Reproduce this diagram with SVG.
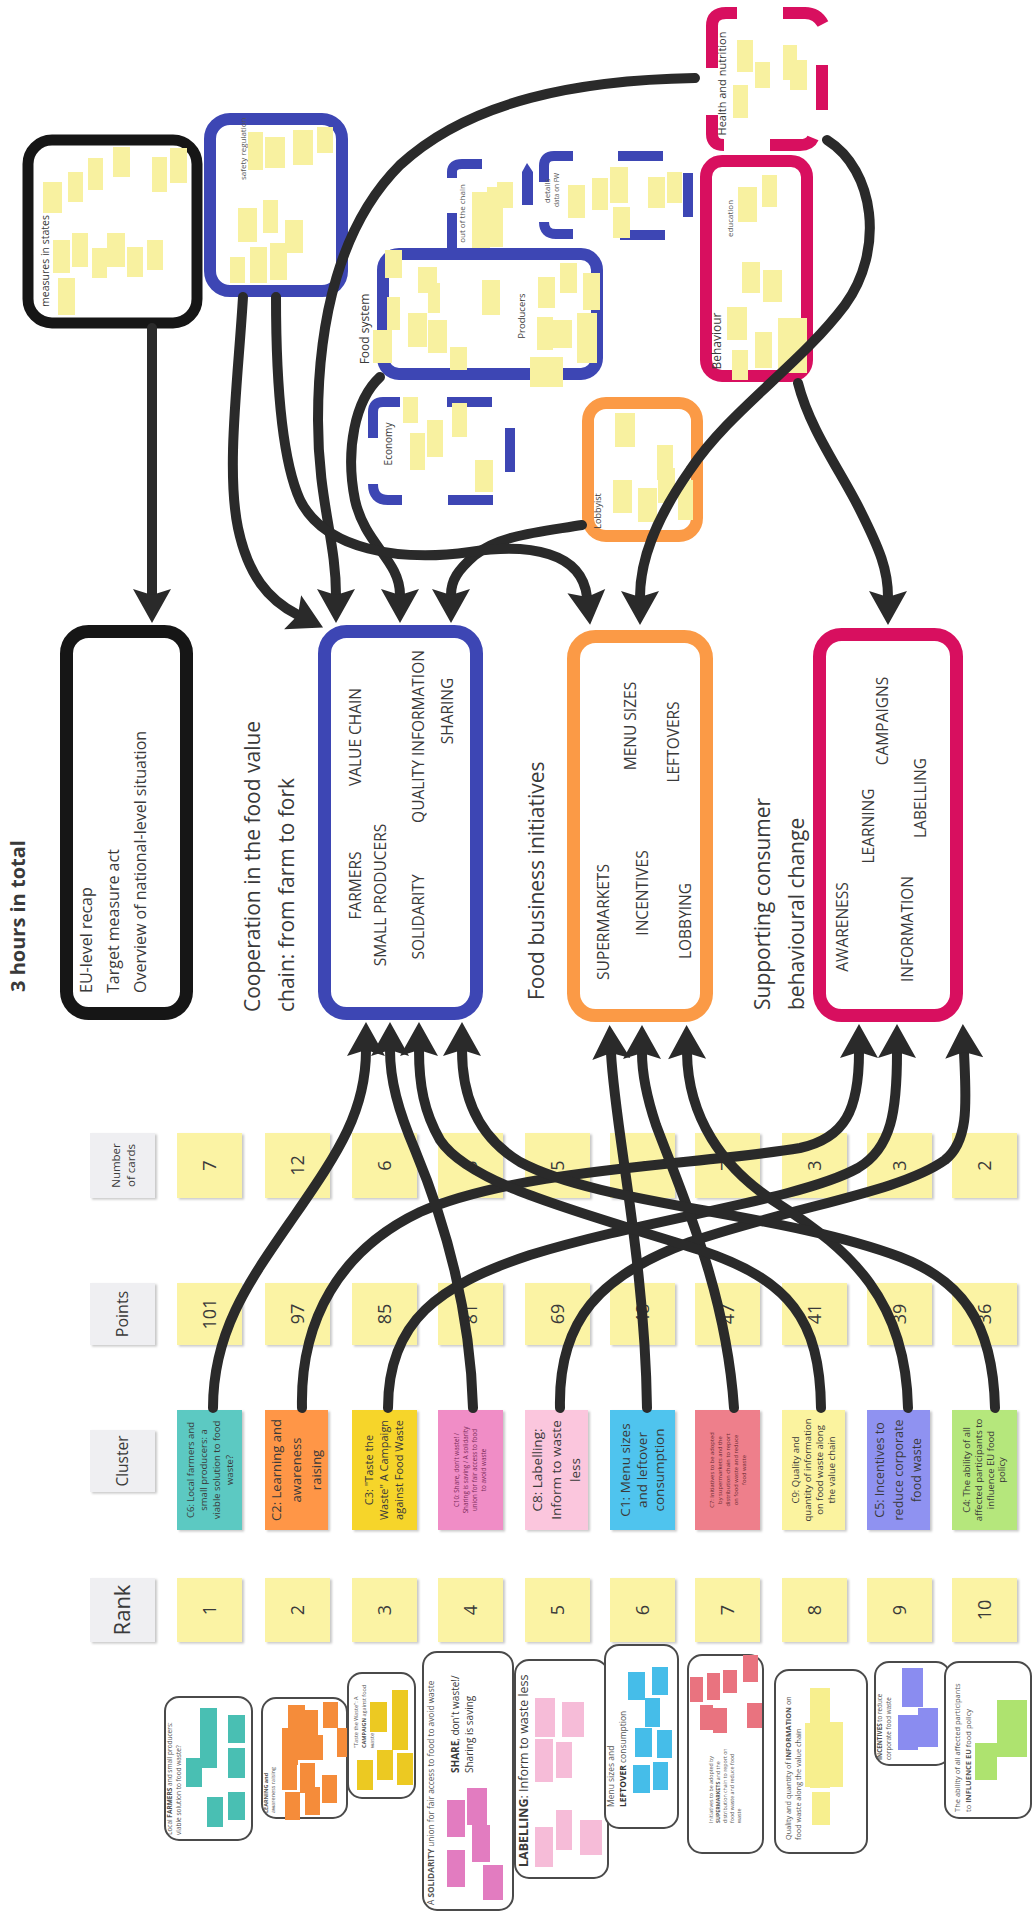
<svg xmlns="http://www.w3.org/2000/svg" width="1033" height="1914" viewBox="0 0 1033 1914">
<defs>
<marker id="ah" markerUnits="userSpaceOnUse" markerWidth="44" markerHeight="44" viewBox="-8 -22 40 44" refX="0" refY="0" orient="auto">
<path d="M-6,-19 L28,0 L-6,19 L0,0 Z" fill="#2a2a2a"/>
</marker>
<filter id="sh" x="-10%" y="-10%" width="130%" height="130%"><feDropShadow dx="2" dy="1.5" stdDeviation="1.2" flood-color="#000" flood-opacity="0.22"/></filter>
<style>
.t{font-family:"Open Sans","Liberation Sans",sans-serif;fill:#3a3a3a}
.g{fill:#555}
.conn{fill:none;stroke:#2a2a2a;stroke-width:10;stroke-linecap:round;marker-end:url(#ah)}
.sn{fill:#f8f1a0}
.bb{fill:none;stroke:#3d46b4;stroke-width:12;stroke-linecap:round}
.bd{fill:none;stroke:#3d46b4;stroke-width:10;stroke-linecap:butt}
.mb{fill:none;stroke:#d80f5f;stroke-width:12}
.ob{fill:none;stroke:#fb9a46;stroke-width:12}
.kb{fill:none;stroke:#161616;stroke-width:11}
.big{fill:#fff;stroke-width:13}
.card{fill:#fbf3a4}
.hdr{fill:#efeff2}
.grp{fill:#fff;stroke:#4a4a4a;stroke-width:2}
</style>
</defs>
<rect width="1033" height="1914" fill="#fff"/>

<!-- ========== TOP CLUSTER BOXES ========== -->
<g id="measures-in-states">
<rect x="28" y="140" width="169" height="183" rx="24" class="kb" fill="#fff"/>
<g class="sn">
<rect x="43" y="182" width="19" height="31"/><rect x="68" y="172" width="15" height="30"/><rect x="88" y="158" width="15" height="32"/>
<rect x="113" y="147" width="17" height="30"/><rect x="152" y="157" width="15" height="35"/><rect x="170" y="148" width="17" height="35"/>
<rect x="53" y="240" width="17" height="33"/><rect x="72" y="233" width="16" height="34"/><rect x="92" y="248" width="15" height="30"/>
<rect x="107" y="233" width="18" height="34"/><rect x="127" y="247" width="16" height="30"/><rect x="147" y="240" width="16" height="30"/>
<rect x="58" y="278" width="17" height="37"/>
</g>
<text class="t" font-size="10.5" transform="translate(49,261) rotate(-90)" text-anchor="middle">measures in states</text>
</g>

<g id="safety-regulation">
<rect x="210" y="119" width="132" height="172" rx="20" fill="#fff" class="bb"/>
<text class="t g" font-size="8" transform="translate(246,180) rotate(-90)">safety regulation</text>
<g class="sn">
<rect x="248" y="132" width="15" height="38"/><rect x="265" y="137" width="20" height="31"/><rect x="293" y="130" width="20" height="35"/>
<rect x="317" y="127" width="16" height="26"/><rect x="238" y="208" width="19" height="34"/><rect x="263" y="200" width="15" height="33"/>
<rect x="285" y="220" width="18" height="33"/><rect x="230" y="257" width="15" height="26"/><rect x="250" y="247" width="17" height="36"/>
<rect x="270" y="243" width="17" height="37"/>
</g>
</g>

<g id="food-system">
<path class="bd" d="M452,178 L452,172 Q452,164 462,164 L482,164"/>
<path class="bd" d="M452,213 L452,250"/>
<path d="M522,205 L522,172 L527,163 L533,172 L533,205 Z" fill="#3d46b4"/>
<text class="t g" font-size="8" transform="translate(465,213.5) rotate(-90)" text-anchor="middle">out of the chain</text>
<rect x="383" y="254" width="214" height="120" rx="16" fill="#fff" class="bb"/>
<text class="t" font-size="12" transform="translate(369,329) rotate(-90)" text-anchor="middle">Food system</text>
<text class="t" font-size="9.5" transform="translate(525,316) rotate(-90)" text-anchor="middle">Producers</text>
<g class="sn">
<rect x="472" y="192" width="18" height="56"/><rect x="487" y="187" width="16" height="60"/><rect x="497" y="182" width="16" height="26"/>
<rect x="385" y="250" width="17" height="28"/><rect x="418" y="267" width="19" height="26"/><rect x="428" y="283" width="12" height="30"/>
<rect x="408" y="313" width="19" height="34"/><rect x="428" y="320" width="19" height="33"/><rect x="373" y="330" width="19" height="33"/>
<rect x="450" y="347" width="17" height="23"/><rect x="387" y="297" width="13" height="33"/><rect x="482" y="280" width="18" height="35"/>
<rect x="538" y="277" width="17" height="31"/><rect x="560" y="263" width="17" height="30"/><rect x="537" y="317" width="16" height="33"/>
<rect x="553" y="320" width="19" height="28"/><rect x="577" y="313" width="20" height="50"/><rect x="530" y="357" width="17" height="30"/>
<rect x="547" y="357" width="16" height="30"/><rect x="583" y="273" width="17" height="37"/>
</g>
</g>

<g id="details-data">
<path class="bd" d="M573,156 L554,156 Q544,156 544,166 L544,182"/>
<path class="bd" d="M544,222 Q544,234 556,234 L573,234"/>
<path class="bd" d="M618,156 L663,156"/>
<path class="bd" d="M620,235 L665,235"/>
<path class="bd" d="M688,173 L688,217"/>
<text class="t g" font-size="8" transform="translate(550,191) rotate(-90)" text-anchor="middle">details</text>
<text class="t g" font-size="6.5" transform="translate(559,190) rotate(-90)" text-anchor="middle">data on FW</text>
<g class="sn">
<rect x="568" y="185" width="17" height="33"/><rect x="592" y="178" width="16" height="32"/><rect x="610" y="167" width="18" height="36"/>
<rect x="613" y="207" width="17" height="31"/><rect x="648" y="177" width="17" height="31"/><rect x="667" y="172" width="15" height="31"/>
</g>
</g>

<g id="economy">
<path class="bd" d="M373,438 L373,412 Q373,402 383,402 L400,402"/>
<path class="bd" d="M447,402 L492,402"/>
<path class="bd" d="M510,428 L510,472"/>
<path class="bd" d="M373,484 Q373,500 388,500 L402,500"/>
<path class="bd" d="M448,500 L493,500"/>
<text class="t" font-size="10" transform="translate(392,444) rotate(-90)" text-anchor="middle">Economy</text>
<g class="sn">
<rect x="403" y="397" width="15" height="26"/><rect x="410" y="433" width="15" height="37"/><rect x="427" y="420" width="16" height="37"/>
<rect x="452" y="403" width="15" height="34"/><rect x="475" y="460" width="18" height="32"/>
</g>
</g>

<g id="health-and-nutrition">
<path class="mb" d="M712,68 L712,26 Q712,13 726,13 L737,13"/>
<path class="mb" d="M783,13 L805,13 Q817,13 823,24"/>
<path class="mb" d="M822,65 L822,110"/>
<path class="mb" d="M770,145 L800,145 Q810,145 813,138"/>
<path class="mb" d="M712,115 L712,134 Q712,145 724,145"/>
<text class="t" font-size="11" transform="translate(726,83.5) rotate(-90)" text-anchor="middle">Health and nutrition</text>
<g class="sn">
<rect x="737" y="40" width="16" height="32"/><rect x="755" y="62" width="15" height="26"/><rect x="783" y="45" width="14" height="35"/>
<rect x="790" y="60" width="17" height="30"/><rect x="733" y="85" width="15" height="33"/>
</g>
</g>

<g id="behaviour">
<rect x="706" y="161" width="101" height="215" rx="16" fill="#fff" class="mb"/>
<text class="t g" font-size="8" transform="translate(733,218.5) rotate(-90)" text-anchor="middle">education</text>
<text class="t" font-size="12" transform="translate(721,341) rotate(-90)" text-anchor="middle">Behaviour</text>
<g class="sn">
<rect x="738" y="187" width="19" height="35"/><rect x="762" y="175" width="15" height="32"/><rect x="742" y="262" width="18" height="31"/>
<rect x="763" y="270" width="19" height="32"/><rect x="727" y="307" width="20" height="33"/><rect x="732" y="350" width="16" height="30"/>
<rect x="755" y="332" width="17" height="36"/><rect x="778" y="318" width="29" height="55"/>
</g>
</g>

<g id="lobbyist">
<rect x="588" y="403" width="109" height="133" rx="18" fill="#fff" class="ob"/>
<text class="t" font-size="9" transform="translate(601,511) rotate(-90)" text-anchor="middle">Lobbyist</text>
<g class="sn">
<rect x="615" y="413" width="20" height="34"/><rect x="657" y="445" width="16" height="35"/><rect x="613" y="480" width="19" height="33"/>
<rect x="638" y="488" width="19" height="34"/><rect x="658" y="468" width="17" height="35"/><rect x="678" y="480" width="15" height="40"/>
</g>
</g>

<!-- ========== MAIN THEME BOXES ========== -->
<g id="title">
<text class="t" font-size="20" font-weight="bold" fill="#222" transform="translate(25,992) rotate(-90)">3 hours in total</text>
</g>

<g id="eu-level">
<rect x="66.5" y="631.5" width="120" height="382" rx="22" class="big" stroke="#161616"/>
<text class="t" font-size="16" fill="#444" transform="translate(92,993) rotate(-90)">EU-level recap</text>
<text class="t" font-size="16" fill="#444" transform="translate(119,993) rotate(-90)">Target measure act</text>
<text class="t" font-size="16" fill="#444" transform="translate(146,993) rotate(-90)">Overview of national-level situation</text>
</g>

<g id="cooperation">
<text class="t" font-size="21" transform="translate(260,1012) rotate(-90)">Cooperation in the food value</text>
<text class="t" font-size="21" transform="translate(294,1012) rotate(-90)">chain: from farm to fork</text>
<rect x="324.5" y="631.5" width="152" height="382" rx="22" class="big" stroke="#3d46b4"/>
<g class="t" font-size="15.5" fill="#555" text-anchor="middle">
<text transform="translate(360.5,885.5) rotate(-90)">FARMERS</text>
<text transform="translate(360.5,737) rotate(-90)">VALUE CHAIN</text>
<text transform="translate(385.5,895) rotate(-90)">SMALL PRODUCERS</text>
<text transform="translate(423.5,917) rotate(-90)">SOLIDARITY</text>
<text transform="translate(423.5,736.5) rotate(-90)">QUALITY INFORMATION</text>
<text transform="translate(452.5,711) rotate(-90)">SHARING</text>
</g>
</g>

<g id="food-business">
<text class="t" font-size="21" transform="translate(544,1000) rotate(-90)">Food business initiatives</text>
<rect x="573.5" y="636.5" width="133" height="379" rx="22" class="big" stroke="#fb9a46"/>
<g class="t" font-size="15.5" fill="#555" text-anchor="middle">
<text transform="translate(608.5,922) rotate(-90)">SUPERMARKETS</text>
<text transform="translate(647.5,893) rotate(-90)">INCENTIVES</text>
<text transform="translate(690.5,921) rotate(-90)">LOBBYING</text>
<text transform="translate(635.5,726) rotate(-90)">MENU SIZES</text>
<text transform="translate(678.5,742) rotate(-90)">LEFTOVERS</text>
</g>
</g>

<g id="consumer-behaviour">
<text class="t" font-size="21" transform="translate(770,1010) rotate(-90)">Supporting consumer</text>
<text class="t" font-size="21" transform="translate(804,1010) rotate(-90)">behavioural change</text>
<rect x="819.5" y="634.5" width="137" height="381" rx="22" class="big" stroke="#d80f5f"/>
<g class="t" font-size="15.5" fill="#555" text-anchor="middle">
<text transform="translate(847.5,927) rotate(-90)">AWARENESS</text>
<text transform="translate(873.5,826) rotate(-90)">LEARNING</text>
<text transform="translate(887.5,721) rotate(-90)">CAMPAIGNS</text>
<text transform="translate(912.5,929) rotate(-90)">INFORMATION</text>
<text transform="translate(925.5,798) rotate(-90)">LABELLING</text>
</g>
</g>

<!-- ========== TABLE ========== -->
<g id="table-headers" filter="url(#sh)">
<rect x="90" y="1133" width="65" height="65" class="hdr"/>
<rect x="90" y="1283" width="65" height="62" class="hdr"/>
<rect x="90" y="1430" width="65" height="62" class="hdr"/>
<rect x="90" y="1578" width="65" height="64" class="hdr"/>
</g>
<g id="table-header-text" class="t" fill="#555" text-anchor="middle">
<text font-size="11.5" transform="translate(122.5,1165.5) rotate(-90)"><tspan x="0" y="-3">Number</tspan><tspan x="0" dy="15">of cards</tspan></text>
<text font-size="16" transform="translate(128,1314) rotate(-90)">Points</text>
<text font-size="15.5" transform="translate(128,1461) rotate(-90)">Cluster</text>
<text font-size="22" transform="translate(130,1610) rotate(-90)">Rank</text>
</g>

<g id="number-of-cards">
<g filter="url(#sh)" class="card">
<rect x="177" y="1133" width="65" height="65"/><rect x="265" y="1133" width="65" height="65"/><rect x="352" y="1133" width="65" height="65"/>
<rect x="438" y="1133" width="65" height="65"/><rect x="525" y="1133" width="65" height="65"/><rect x="610" y="1133" width="65" height="65"/>
<rect x="695" y="1133" width="65" height="65"/><rect x="782" y="1133" width="65" height="65"/><rect x="867" y="1133" width="65" height="65"/>
<rect x="952" y="1133" width="65" height="65"/>
</g>
<g class="t" font-size="18" fill="#444" text-anchor="middle">
<text transform="translate(216,1165.5) rotate(-90)">7</text><text transform="translate(304,1165.5) rotate(-90)">12</text>
<text transform="translate(391,1165.5) rotate(-90)">6</text><text transform="translate(477,1165.5) rotate(-90)">5</text>
<text transform="translate(564,1165.5) rotate(-90)">5</text><text transform="translate(649,1165.5) rotate(-90)">6</text>
<text transform="translate(734,1165.5) rotate(-90)">7</text><text transform="translate(821,1165.5) rotate(-90)">3</text>
<text transform="translate(906,1165.5) rotate(-90)">3</text><text transform="translate(991,1165.5) rotate(-90)">2</text>
</g>
</g>

<g id="points">
<g filter="url(#sh)" class="card">
<rect x="177" y="1283" width="65" height="62"/><rect x="265" y="1283" width="65" height="62"/><rect x="352" y="1283" width="65" height="62"/>
<rect x="438" y="1283" width="65" height="62"/><rect x="525" y="1283" width="65" height="62"/><rect x="610" y="1283" width="65" height="62"/>
<rect x="695" y="1283" width="65" height="62"/><rect x="782" y="1283" width="65" height="62"/><rect x="867" y="1283" width="65" height="62"/>
<rect x="952" y="1283" width="65" height="62"/>
</g>
<g class="t" font-size="18" fill="#444" text-anchor="middle">
<text transform="translate(216,1314) rotate(-90)">101</text><text transform="translate(304,1314) rotate(-90)">97</text>
<text transform="translate(391,1314) rotate(-90)">85</text><text transform="translate(477,1314) rotate(-90)">81</text>
<text transform="translate(564,1314) rotate(-90)">69</text><text transform="translate(649,1314) rotate(-90)">48</text>
<text transform="translate(734,1314) rotate(-90)">47</text><text transform="translate(821,1314) rotate(-90)">41</text>
<text transform="translate(906,1314) rotate(-90)">39</text><text transform="translate(991,1314) rotate(-90)">36</text>
</g>
</g>

<g id="clusters">
<g filter="url(#sh)">
<rect x="177" y="1410" width="65" height="120" fill="#5cc9c2"/>
<rect x="265" y="1410" width="63" height="120" fill="#ff9646"/>
<rect x="352" y="1410" width="65" height="120" fill="#f6d52c"/>
<rect x="438" y="1410" width="65" height="120" fill="#f08dc6"/>
<rect x="525" y="1410" width="63" height="120" fill="#fbc6dd"/>
<rect x="610" y="1410" width="65" height="120" fill="#4fc4ee"/>
<rect x="695" y="1410" width="65" height="120" fill="#ee7f8b"/>
<rect x="782" y="1410" width="63" height="120" fill="#fbf39f"/>
<rect x="867" y="1410" width="63" height="120" fill="#8f92f1"/>
<rect x="952" y="1410" width="65" height="120" fill="#b5e77b"/>
</g>
<g class="t" fill="#333" text-anchor="middle">
<text font-size="9.5" transform="translate(209.5,1470) rotate(-90)"><tspan x="0" y="-16">C6: Local farmers and</tspan><tspan x="0" dy="13">small producers: a</tspan><tspan x="0" dy="13">viable solution to food</tspan><tspan x="0" dy="13">waste?</tspan></text>
<text font-size="13" transform="translate(296.5,1470) rotate(-90)"><tspan x="0" y="-15.5">C2: Learning and</tspan><tspan x="0" dy="20">awareness</tspan><tspan x="0" dy="20">raising</tspan></text>
<text font-size="11" transform="translate(384.5,1470) rotate(-90)"><tspan x="0" y="-11.2">C3: "Taste the</tspan><tspan x="0" dy="15">Waste" A Campaign</tspan><tspan x="0" dy="15">against Food Waste</tspan></text>
<text font-size="6.3" fill="#7a2a58" transform="translate(470.5,1470) rotate(-90)"><tspan x="0" y="-11.3">C10: Share, don't waste! /</tspan><tspan x="0" dy="9">Sharing is saving / A solidarity</tspan><tspan x="0" dy="9">union for fair access to food</tspan><tspan x="0" dy="9">to avoid waste</tspan></text>
<text font-size="13.5" transform="translate(556.5,1470) rotate(-90)"><tspan x="0" y="-14.3">C8: Labelling:</tspan><tspan x="0" dy="19">Inform to waste</tspan><tspan x="0" dy="19">less</tspan></text>
<text font-size="13.5" transform="translate(642.5,1470) rotate(-90)"><tspan x="0" y="-12.3">C1: Menu sizes</tspan><tspan x="0" dy="17">and leftover</tspan><tspan x="0" dy="17">consumption</tspan></text>
<text font-size="5.8" fill="#6a2a32" transform="translate(727.5,1470) rotate(-90)"><tspan x="0" y="-13.9">C7: Initiatives to be adopted</tspan><tspan x="0" dy="8">by supermarkets and the</tspan><tspan x="0" dy="8">distribution chain to report</tspan><tspan x="0" dy="8">on food waste and reduce</tspan><tspan x="0" dy="8">food waste</tspan></text>
<text font-size="9.5" transform="translate(813.5,1470) rotate(-90)"><tspan x="0" y="-14.7">C9: Quality and</tspan><tspan x="0" dy="12">quantity of information</tspan><tspan x="0" dy="12">on food waste along</tspan><tspan x="0" dy="12">the value chain</tspan></text>
<text font-size="12.5" transform="translate(898.5,1470) rotate(-90)"><tspan x="0" y="-14.1">C5: Incentives to</tspan><tspan x="0" dy="18.5">reduce corporate</tspan><tspan x="0" dy="18.5">food waste</tspan></text>
<text font-size="9.5" transform="translate(984.5,1470) rotate(-90)"><tspan x="0" y="-14.2">C4: The ability of all</tspan><tspan x="0" dy="11.7">affected participants to</tspan><tspan x="0" dy="11.7">influence EU food</tspan><tspan x="0" dy="11.7">policy</tspan></text>
</g>
</g>

<g id="rank">
<g filter="url(#sh)" class="card">
<rect x="177" y="1578" width="65" height="64"/><rect x="265" y="1578" width="65" height="64"/><rect x="352" y="1578" width="65" height="64"/>
<rect x="438" y="1578" width="65" height="64"/><rect x="525" y="1578" width="65" height="64"/><rect x="610" y="1578" width="65" height="64"/>
<rect x="695" y="1578" width="65" height="64"/><rect x="782" y="1578" width="65" height="64"/><rect x="867" y="1578" width="65" height="64"/>
<rect x="952" y="1578" width="65" height="64"/>
</g>
<g class="t" font-size="18" fill="#444" text-anchor="middle">
<text transform="translate(216,1610) rotate(-90)">1</text><text transform="translate(304,1610) rotate(-90)">2</text>
<text transform="translate(391,1610) rotate(-90)">3</text><text transform="translate(477,1610) rotate(-90)">4</text>
<text transform="translate(564,1610) rotate(-90)">5</text><text transform="translate(649,1610) rotate(-90)">6</text>
<text transform="translate(734,1610) rotate(-90)">7</text><text transform="translate(821,1610) rotate(-90)">8</text>
<text transform="translate(906,1610) rotate(-90)">9</text><text transform="translate(991,1610) rotate(-90)">10</text>
</g>
</g>

<!-- ========== BOTTOM GROUPS ========== -->
<g id="group-c6">
<rect x="165" y="1697" width="87" height="143" rx="14" class="grp"/>
<g fill="#49bfb3"><rect x="200" y="1708" width="17" height="60"/><rect x="228" y="1715" width="17" height="28"/><rect x="186" y="1758" width="16" height="29"/><rect x="228" y="1748" width="17" height="30"/><rect x="207" y="1797" width="16" height="30"/><rect x="228" y="1792" width="17" height="28"/></g>
<text class="t g" font-size="6.5" transform="translate(172,1835) rotate(-90)"><tspan x="0" y="0">Local <tspan font-weight="bold">FARMERS</tspan> and small producers:</tspan><tspan x="0" dy="9">viable solution to food waste?</tspan></text>
</g>
<g id="group-c2">
<rect x="262" y="1698" width="85" height="120" rx="14" class="grp"/>
<g fill="#f58c3a"><rect x="288" y="1705" width="17" height="45"/><rect x="303" y="1710" width="15" height="37"/><rect x="323" y="1702" width="15" height="26"/><rect x="282" y="1728" width="16" height="37"/><rect x="297" y="1735" width="16" height="25"/><rect x="312" y="1735" width="11" height="25"/><rect x="337" y="1728" width="11" height="29"/><rect x="282" y="1762" width="15" height="28"/><rect x="300" y="1763" width="15" height="30"/><rect x="322" y="1775" width="15" height="28"/><rect x="285" y="1792" width="15" height="28"/><rect x="305" y="1787" width="15" height="28"/></g>
<text class="t g" font-size="5.5" transform="translate(268,1813) rotate(-90)"><tspan x="0" y="0" font-weight="bold">LEARNING and</tspan><tspan x="0" dy="7">awareness raising</tspan></text>
</g>
<g id="group-c3">
<rect x="348" y="1673" width="67" height="125" rx="14" class="grp"/>
<g fill="#ecc922"><rect x="370" y="1702" width="17" height="30"/><rect x="392" y="1690" width="16" height="60"/><rect x="357" y="1760" width="16" height="30"/><rect x="377" y="1750" width="16" height="30"/><rect x="397" y="1753" width="16" height="32"/></g>
<text class="t g" font-size="5.5" transform="translate(358,1748) rotate(-90)"><tspan x="0" y="0">"Taste the Waste": A</tspan><tspan x="0" dy="8"><tspan font-weight="bold">CAMPAIGN</tspan> against food</tspan><tspan x="0" dy="8">waste</tspan></text>
</g>
<g id="group-c10">
<rect x="423" y="1652" width="90" height="258" rx="14" class="grp"/>
<g fill="#e27cc0"><rect x="447" y="1800" width="18" height="37"/><rect x="467" y="1788" width="20" height="37"/><rect x="472" y="1825" width="18" height="37"/><rect x="447" y="1850" width="18" height="37"/><rect x="483" y="1865" width="20" height="35"/></g>
<text class="t g" font-size="8.3" transform="translate(434,1905) rotate(-90)">A <tspan font-weight="bold">SOLIDARITY</tspan> union for fair access to food to avoid waste</text>
<text class="t" font-size="10" transform="translate(459,1773) rotate(-90)"><tspan x="0" y="0"><tspan font-weight="bold">SHARE</tspan>, don't waste!/</tspan><tspan x="0" dy="14">Sharing is saving</tspan></text>
</g>
<g id="group-c8">
<rect x="515" y="1660" width="93" height="218" rx="14" class="grp"/>
<g fill="#f6bcd8"><rect x="535" y="1698" width="20" height="39"/><rect x="562" y="1702" width="22" height="35"/><rect x="535" y="1739" width="18" height="43"/><rect x="556" y="1742" width="16" height="36"/><rect x="535" y="1827" width="18" height="40"/><rect x="556" y="1810" width="16" height="40"/><rect x="580" y="1820" width="22" height="35"/></g>
<text class="t" font-size="12.5" transform="translate(528,1867) rotate(-90)"><tspan font-weight="bold">LABELLING</tspan>: Inform to waste less</text>
</g>
<g id="group-c1">
<rect x="605" y="1645" width="73" height="183" rx="14" class="grp"/>
<g fill="#45bde9"><rect x="628" y="1672" width="17" height="28"/><rect x="652" y="1667" width="16" height="28"/><rect x="645" y="1698" width="15" height="29"/><rect x="635" y="1728" width="17" height="29"/><rect x="657" y="1730" width="15" height="28"/><rect x="633" y="1765" width="17" height="28"/><rect x="653" y="1762" width="15" height="28"/></g>
<text class="t g" font-size="8.5" transform="translate(614,1807) rotate(-90)"><tspan x="0" y="0">Menu sizes and</tspan><tspan x="0" dy="12"><tspan font-weight="bold" fill="#333">LEFTOVER</tspan> consumption</tspan></text>
</g>
<g id="group-c7">
<rect x="688" y="1655" width="75" height="198" rx="14" class="grp"/>
<g fill="#e9737f"><rect x="690" y="1677" width="13" height="25"/><rect x="707" y="1673" width="13" height="27"/><rect x="723" y="1670" width="14" height="23"/><rect x="743" y="1655" width="15" height="27"/><rect x="700" y="1705" width="13" height="25"/><rect x="713" y="1708" width="14" height="25"/><rect x="747" y="1703" width="15" height="25"/></g>
<text class="t g" font-size="5.3" transform="translate(713,1823) rotate(-90)"><tspan x="0" y="0">Initiatives to be adopted by</tspan><tspan x="0" dy="7"><tspan font-weight="bold">SUPERMARKETS</tspan> and the</tspan><tspan x="0" dy="7">distribution chain to report on</tspan><tspan x="0" dy="7">food waste and reduce food</tspan><tspan x="0" dy="7">waste</tspan></text>
</g>
<g id="group-c9">
<rect x="775" y="1670" width="92" height="183" rx="14" class="grp"/>
<g fill="#f7ef8e"><rect x="810" y="1688" width="20" height="100"/><rect x="822" y="1722" width="21" height="65"/><rect x="805" y="1723" width="15" height="64"/><rect x="812" y="1792" width="18" height="33"/></g>
<text class="t g" font-size="7.3" transform="translate(791,1840) rotate(-90)"><tspan x="0" y="0">Quality and quantity of <tspan font-weight="bold">INFORMATION</tspan> on</tspan><tspan x="0" dy="10">food waste along the value chain</tspan></text>
</g>
<g id="group-c5">
<rect x="875" y="1662" width="75" height="103" rx="14" class="grp"/>
<g fill="#8a8cf0"><rect x="902" y="1668" width="21" height="39"/><rect x="918" y="1708" width="20" height="39"/><rect x="898" y="1715" width="20" height="35"/></g>
<text class="t g" font-size="6.3" transform="translate(882,1760) rotate(-90)"><tspan x="0" y="0"><tspan font-weight="bold">INCENTIVES</tspan> to reduce</tspan><tspan x="0" dy="9">corporate food waste</tspan></text>
</g>
<g id="group-c4">
<rect x="945" y="1662" width="86" height="156" rx="14" class="grp"/>
<g fill="#aee36f"><rect x="975" y="1743" width="22" height="37"/><rect x="997" y="1700" width="30" height="57"/></g>
<text class="t g" font-size="7.5" transform="translate(960,1812) rotate(-90)"><tspan x="0" y="0">The ability of all affected participants</tspan><tspan x="0" dy="11">to <tspan font-weight="bold">INFLUENCE EU</tspan> food policy</tspan></text>
</g>

<!-- ========== CONNECTORS ========== -->
<g id="connectors">
<path class="conn" d="M152,328 L152,595"/>
<path class="conn" d="M243,297 C238,380 226,470 238,528 C248,575 268,600 298,615"/>
<path class="conn" d="M695,78 C580,80 470,100 400,165 C340,225 318,320 318,420 C318,500 336,540 336,595"/>
<path class="conn" d="M380,377 C355,400 345,450 355,500 C365,545 400,560 400,595"/>
<path class="conn" d="M582,525 C540,532 500,535 475,555 C458,570 451,580 451,595"/>
<path class="conn" d="M276,297 C276,380 282,460 300,500 C325,550 400,562 470,552 C530,543 582,552 587,597"/>
<path class="conn" d="M827,140 C875,170 885,250 845,305 C800,365 730,410 690,470 C655,520 640,560 640,597"/>
<path class="conn" d="M798,383 C810,430 840,470 860,510 C880,550 888,570 888,597"/>

<path class="conn" d="M213,1408 C213,1330 250,1280 295,1215 C340,1150 366,1110 366,1050"/>
<path class="conn" d="M302,1408 C300,1320 340,1250 420,1212 C520,1168 700,1165 800,1148 C845,1138 859,1110 859,1052"/>
<path class="conn" d="M388,1408 C388,1320 440,1285 530,1255 C650,1218 800,1200 858,1168 C892,1148 897,1110 897,1052"/>
<path class="conn" d="M473,1408 C470,1300 440,1210 415,1150 C398,1110 390,1080 390,1050"/>
<path class="conn" d="M560,1408 C558,1320 600,1275 690,1242 C800,1205 900,1192 945,1160 C970,1140 966,1100 964,1052"/>
<path class="conn" d="M647,1408 C645,1260 615,1130 611,1053"/>
<path class="conn" d="M734,1408 C726,1290 682,1195 656,1125 C646,1095 642,1075 642,1053"/>
<path class="conn" d="M821,1408 C820,1320 790,1280 700,1250 C580,1212 470,1185 440,1140 C424,1112 419,1085 419,1050"/>
<path class="conn" d="M908,1408 C906,1300 850,1250 780,1205 C720,1168 688,1115 687,1053"/>
<path class="conn" d="M995,1408 C993,1320 960,1280 900,1257 C780,1212 600,1205 520,1162 C480,1138 462,1100 462,1050"/>
</g>
</svg>
